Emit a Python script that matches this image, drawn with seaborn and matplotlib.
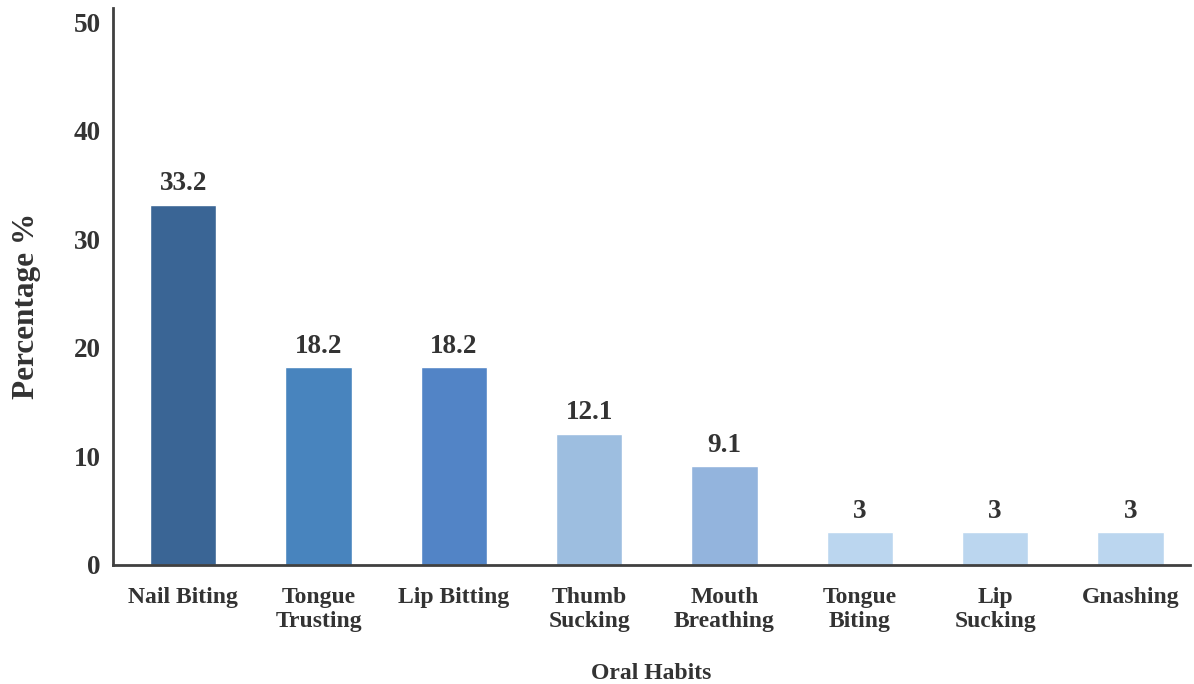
import matplotlib
matplotlib.use("Agg")
import matplotlib.pyplot as plt
import seaborn as sns
import pandas as pd

# data
habits = ["Nail Biting", "Tongue\nTrusting", "Lip Bitting", "Thumb\nSucking",
          "Mouth\nBreathing", "Tongue\nBiting", "Lip\nSucking", "Gnashing"]
percent = [33.2, 18.2, 18.2, 12.1, 9.1, 3, 3, 3]
bar_labels = ["33.2", "18.2", "18.2", "12.1", "9.1", "3", "3", "3"]
colors = ["#3A6595", "#4884BE", "#5284C6", "#9DBEE0",
          "#93B4DD", "#BBD6EF", "#BBD6EF", "#BBD6EF"]

df = pd.DataFrame({"habit": habits, "pct": percent})

sns.set_style("white")
plt.rcParams["font.family"] = ["Liberation Serif", "DejaVu Serif"]
plt.rcParams["font.weight"] = "bold"

fig = plt.figure(figsize=(11.94, 6.84), dpi=100)
ax = fig.add_axes([0.0946, 0.174, 0.902, 0.814])

sns.barplot(data=df, x="habit", y="pct", hue="habit", palette=colors,
            width=0.49, legend=False, ax=ax, saturation=1)

for bar, lab in zip(ax.patches, bar_labels):
    ax.annotate(lab, (bar.get_x() + bar.get_width() / 2, bar.get_height()),
                xytext=(0, 6), textcoords="offset points", ha="center",
                va="bottom", fontsize=19.5, fontweight="bold", color="#333333")

ax.set_ylim(0, 51.3)
ax.set_xlim(-0.52, 7.44)
ax.set_yticks([0, 10, 20, 30, 40, 50])
ax.tick_params(axis="y", length=0, pad=9, labelsize=19.5, colors="#333333")
ax.tick_params(axis="x", length=0, pad=16, labelsize=17, colors="#333333")
for t in ax.get_yticklabels() + ax.get_xticklabels():
    t.set_fontweight("bold")

ax.set_ylabel("Percentage %", fontsize=22.5, fontweight="bold", color="#333333")
ax.yaxis.set_label_coords(-0.067, 0.465)
ax.set_xlabel("Oral Habits", fontsize=17, fontweight="bold", color="#333333", labelpad=22)

sns.despine(ax=ax)
for s in ["left", "bottom"]:
    ax.spines[s].set_color("#404040")
    ax.spines[s].set_linewidth(2)

fig.savefig("out.png", dpi=100)
